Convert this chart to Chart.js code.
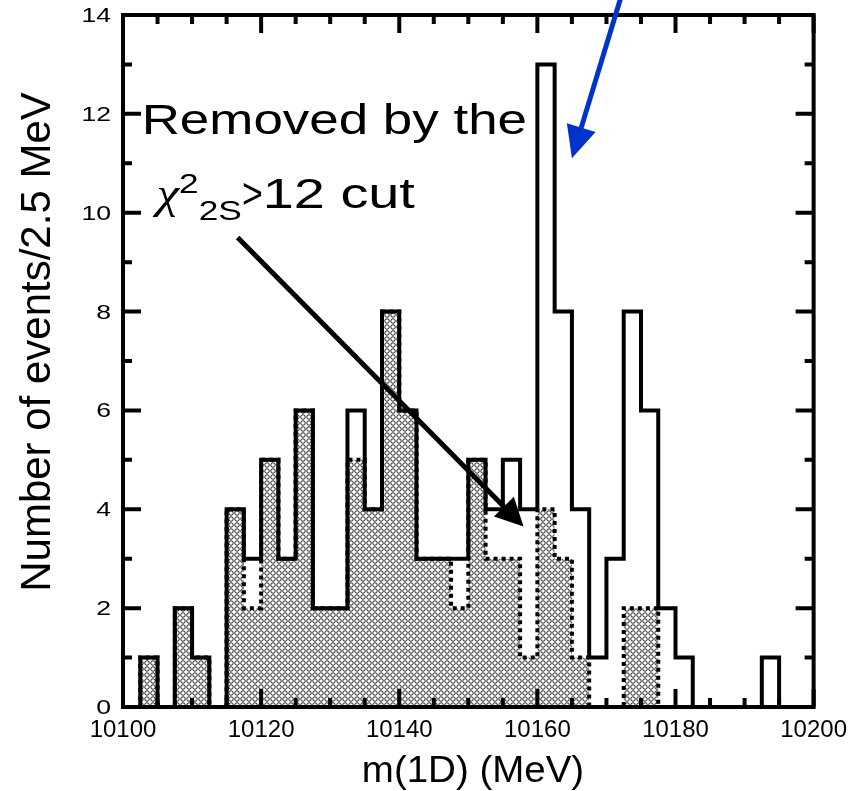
<!DOCTYPE html>
<html>
<head>
<meta charset="utf-8">
<title>m(1D) distribution</title>
<script src="https://cdn.jsdelivr.net/npm/chart.js@4.4.1/dist/chart.umd.min.js"></script>
<style>
  html, body { margin: 0; padding: 0; background: #ffffff; }
  #wrap { width: 856px; height: 791px; position: relative; }
</style>
</head>
<body>
<div id="wrap"><canvas id="histo" width="856" height="791"></canvas></div>
<script>
// Histogram binning (MeV)
const massStart = 10100;
const binWidth = 2.5;

// Events per 2.5 MeV bin, all candidates (solid outline)
const allEvents = [0, 1, 0, 2, 1, 0, 4, 3, 5, 3,
                   6, 2, 2, 6, 4, 8, 6, 3, 3, 3,
                   5, 4, 5, 4, 13, 8, 4, 1, 3, 8,
                   6, 2, 1, 0, 0, 0, 0, 1, 0, 0];

// Events per bin surviving the chi^2 cut (patterned, dotted outline)
const keptEvents = [0, 1, 0, 2, 1, 0, 4, 2, 5, 3,
                    6, 2, 2, 5, 4, 8, 6, 3, 3, 2,
                    5, 3, 3, 1, 4, 3, 1, 0, 0, 2,
                    2, 0, 0, 0, 0, 0, 0, 0, 0, 0];

const xTickValues = [10100, 10120, 10140, 10160, 10180, 10200];
const yTickValues = [0, 2, 4, 6, 8, 10, 12, 14];

const xTitle = 'm(1D) (MeV)';
const yTitle = 'Number of events/2.5 MeV';

// bin lower edges, plus the closing edge at the end of the range
const binEdges = allEvents.map((_, i) => massStart + i * binWidth);
const rangeEnd = massStart + allEvents.length * binWidth;

function stepPoints(counts) {
  const pts = counts.map((c, i) => ({ x: binEdges[i], y: c }));
  pts.push({ x: rangeEnd, y: 0 });
  return pts;
}

// small open-circle texture for the surviving events
function circlePattern() {
  const tile = document.createElement('canvas');
  tile.width = 6; tile.height = 6;
  const t = tile.getContext('2d');
  t.fillStyle = '#ffffff';
  t.fillRect(0, 0, 6, 6);
  t.strokeStyle = '#000000';
  t.lineWidth = 0.85;
  t.beginPath();
  t.arc(3, 3, 2.25, 0, Math.PI * 2);
  t.stroke();
  return t.createPattern(tile, 'repeat');
}

const FONT = '"Liberation Sans", Arial, Helvetica, sans-serif';
const CHI_FONT = 'italic {s}px "Liberation Serif", "DejaVu Serif", serif';

// draw text horizontally stretched by sx, left-aligned at (x, y baseline)
function stretchedText(ctx, txt, x, y, font, sx) {
  ctx.save();
  ctx.font = font;
  ctx.textBaseline = 'alphabetic';
  ctx.textAlign = 'left';
  ctx.translate(x, y);
  ctx.scale(sx, 1);
  ctx.fillText(txt, 0, 0);
  const w = ctx.measureText(txt).width * sx;
  ctx.restore();
  return w;
}

function arrow(ctx, x0, y0, x1, y1, color, width, headLen, headHalf) {
  const ang = Math.atan2(y1 - y0, x1 - x0);
  const bx = x1 - headLen * Math.cos(ang);
  const by = y1 - headLen * Math.sin(ang);
  ctx.save();
  ctx.strokeStyle = color;
  ctx.fillStyle = color;
  ctx.lineWidth = width;
  ctx.lineCap = 'butt';
  ctx.beginPath();
  ctx.moveTo(x0, y0);
  ctx.lineTo(bx + 2 * Math.cos(ang), by + 2 * Math.sin(ang));
  ctx.stroke();
  ctx.beginPath();
  ctx.moveTo(x1, y1);
  ctx.lineTo(bx - headHalf * Math.sin(ang), by + headHalf * Math.cos(ang));
  ctx.lineTo(bx + headHalf * Math.sin(ang), by - headHalf * Math.cos(ang));
  ctx.closePath();
  ctx.fill();
  ctx.restore();
}

// annotation anchors, in data units (MeV, events)
const cutArrow = { from: { x: 10116.6, y: 9.5 }, to: { x: 10158.0, y: 3.65 } };
const peakArrow = { from: { x: 10172.4, y: 14.5 }, to: { x: 10165.0, y: 11.1 } };
const noteLine1 = { x: 10102.7, y: 11.6, text: 'Removed by the' };
const noteLine2 = { x: 10104.9, y: 10.1 };

// boxed frame with inward ticks on all four sides, y labels stretched wide
const framePlugin = {
  id: 'frame',
  afterDatasetsDraw(chart) {
    const { ctx, chartArea: a, scales: { x, y } } = chart;
    ctx.save();
    ctx.strokeStyle = '#000';
    ctx.lineWidth = 4;
    ctx.lineJoin = 'miter';
    ctx.strokeRect(a.left, a.top, a.right - a.left, a.bottom - a.top);
    ctx.beginPath();
    for (let v = 0; v <= 14; v += 1) {
      const py = y.getPixelForValue(v);
      const len = v % 2 === 0 ? 18 : 9;
      ctx.moveTo(a.left, py); ctx.lineTo(a.left + len, py);
      ctx.moveTo(a.right, py); ctx.lineTo(a.right - len, py);
    }
    for (let m = 10100; m <= 10200; m += 5) {
      const px = x.getPixelForValue(m);
      const len = m % 20 === 0 ? 18 : 9;
      ctx.moveTo(px, a.bottom); ctx.lineTo(px, a.bottom - len);
      ctx.moveTo(px, a.top); ctx.lineTo(px, a.top + len);
    }
    ctx.stroke();

    // y tick labels
    ctx.fillStyle = '#000';
    ctx.font = '20px ' + FONT;
    yTickValues.forEach(v => {
      const s = String(v);
      const sx = 1.33;
      const w = ctx.measureText(s).width * sx;
      stretchedText(ctx, s, a.left - 12 - w, y.getPixelForValue(v) + 7, '20px ' + FONT, sx);
    });
    ctx.restore();
  },
  afterDraw(chart) {
    const { ctx, chartArea: a, scales: { x, y } } = chart;
    ctx.save();
    ctx.fillStyle = '#000';

    // axis titles
    ctx.save();
    ctx.font = '42px ' + FONT;
    ctx.textAlign = 'center';
    ctx.textBaseline = 'middle';
    ctx.translate(38, 342);
    ctx.rotate(-Math.PI / 2);
    ctx.fillText(yTitle, 0, 0);
    ctx.restore();

    ctx.font = '37px ' + FONT;
    const xsx = 1.04;
    const tw = ctx.measureText(xTitle).width * xsx;
    stretchedText(ctx, xTitle, 473 - tw / 2, 782, '37px ' + FONT, xsx);

    // annotation text
    const sx = 1.26;
    const big = '42px ' + FONT, small = '28px ' + FONT;
    stretchedText(ctx, noteLine1.text, x.getPixelForValue(noteLine1.x), y.getPixelForValue(noteLine1.y), big, sx);
    let px = x.getPixelForValue(noteLine2.x);
    const base = y.getPixelForValue(noteLine2.y);
    px += stretchedText(ctx, '\u03C7', px, base, CHI_FONT.replace('{s}', 44), 1.15);
    px += stretchedText(ctx, '2', px, base - 15, small, sx);
    px += stretchedText(ctx, '2S', px, base + 12, small, sx);
    px += stretchedText(ctx, '>', px, base, big, 0.85);
    stretchedText(ctx, '12 cut', px, base, big, 1.33);

    // arrows
    arrow(ctx, x.getPixelForValue(cutArrow.from.x), y.getPixelForValue(cutArrow.from.y),
          x.getPixelForValue(cutArrow.to.x), y.getPixelForValue(cutArrow.to.y),
          '#000000', 5, 28, 14);
    arrow(ctx, x.getPixelForValue(peakArrow.from.x), y.getPixelForValue(peakArrow.from.y),
          x.getPixelForValue(peakArrow.to.x), y.getPixelForValue(peakArrow.to.y),
          '#0033cc', 5, 32, 15);
    ctx.restore();
  }
};

new Chart(document.getElementById('histo'), {
  type: 'line',
  data: {
    datasets: [
      {
        label: 'all',
        data: stepPoints(allEvents),
        stepped: 'before',
        borderColor: '#000000',
        borderWidth: 4,
        borderJoinStyle: 'miter',
        pointRadius: 0,
        fill: false,
        order: 0
      },
      {
        label: 'kept',
        data: stepPoints(keptEvents),
        stepped: 'before',
        borderColor: '#000000',
        borderWidth: 4,
        borderDash: [4, 4],
        borderCapStyle: 'butt',
        backgroundColor: circlePattern(),
        pointRadius: 0,
        fill: 'origin',
        order: 1
      }
    ]
  },
  options: {
    responsive: false,
    animation: false,
    events: [],
    layout: { padding: { top: 15, right: 41, left: 0, bottom: 0 } },
    plugins: { legend: { display: false }, tooltip: { enabled: false } },
    scales: {
      x: {
        type: 'linear',
        min: 10100,
        max: 10200,
        grid: { display: false, drawTicks: false },
        border: { display: false },
        afterBuildTicks: (s) => { s.ticks = xTickValues.map(v => ({ value: v })); },
        afterFit: (s) => { s.height = 84; },
        ticks: {
          color: '#000',
          padding: 9,
          maxRotation: 0,
          autoSkip: false,
          font: { family: FONT, size: 24 },
          callback: (v) => String(v)
        }
      },
      y: {
        type: 'linear',
        min: 0,
        max: 14,
        grid: { display: false, drawTicks: false },
        border: { display: false },
        afterBuildTicks: (s) => { s.ticks = yTickValues.map(v => ({ value: v })); },
        afterFit: (s) => { s.width = 123; },
        ticks: { display: false }
      }
    }
  },
  plugins: [framePlugin]
});
</script>
</body>
</html>
